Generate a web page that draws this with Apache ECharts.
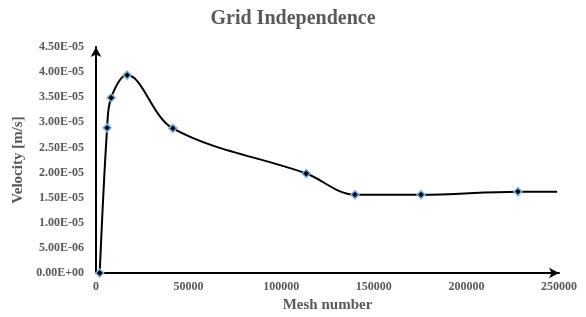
<!DOCTYPE html>
<html>
<head>
<meta charset="utf-8">
<script src="https://cdn.jsdelivr.net/npm/echarts@6/dist/echarts.min.js"></script>
<style>
  html, body { margin: 0; padding: 0; background: #fff; }
  #chart { width: 586px; height: 317px; }
</style>
</head>
<body>
<div id="chart"></div>
<script>
// mesh counts and velocity
var meshNumber = [2000, 6000, 8200, 16800, 41500, 113500, 139800, 175500, 227800, 249000];
var velocity = [0.0, 2.89e-5, 3.49e-5, 3.94e-5, 2.88e-5, 1.98e-5, 1.56e-5, 1.56e-5, 1.62e-5, 1.62e-5];
// last point only carries the line to the axis end, no marker
var showMarker = [true, true, true, true, true, true, true, true, true, false];

var serif = '"Liberation Serif", "DejaVu Serif", serif';
var grey = '#595959';

// Excel-like scientific labels: 4.50E-05
function sci(v) {
    var s = Number(v).toExponential(2).toUpperCase();
    var parts = s.split('E');
    var exp = parseInt(parts[1], 10);
    var sign = exp < 0 ? '-' : '+';
    var e = Math.abs(exp);
    return parts[0] + 'E' + sign + (e < 10 ? '0' + e : e);
}

var chart = echarts.init(document.getElementById('chart'));
var option = {
    animation: false,
    title: {
        text: 'Grid Independence',
        left: 'center',
        top: 4,
        textStyle: { fontFamily: serif, fontSize: 20, fontWeight: 'bold', color: grey }
    },
    grid: { left: 96, right: 27, top: 47, bottom: 44, outerBoundsMode: 'none', containLabel: false },
    xAxis: {
        type: 'value',
        min: 0,
        max: 250000,
        interval: 50000,
        name: 'Mesh number',
        nameLocation: 'middle',
        nameGap: 25,
        nameTextStyle: { fontFamily: serif, fontSize: 15, fontWeight: 'bold', color: grey },
        axisLine: { lineStyle: { color: '#000', width: 2 }, symbol: ['none', 'arrow'], symbolSize: [8, 10] },
        axisTick: { show: false },
        splitLine: { show: false },
        axisLabel: {
            fontFamily: serif, fontSize: 12, fontWeight: 'bold', color: grey, margin: 8,
            formatter: function (v) { return String(v); }
        }
    },
    yAxis: {
        type: 'value',
        min: 0,
        max: 4.5e-5,
        interval: 5e-6,
        name: 'Velocity [m/s]',
        nameLocation: 'middle',
        nameGap: 67,
        nameTextStyle: { fontFamily: serif, fontSize: 15, fontWeight: 'bold', color: grey },
        axisLine: { lineStyle: { color: '#000', width: 2 }, symbol: ['none', 'arrow'], symbolSize: [8, 10] },
        axisTick: { show: false },
        splitLine: { show: false },
        axisLabel: {
            fontFamily: serif, fontSize: 12, fontWeight: 'bold', color: grey, margin: 12,
            formatter: sci
        }
    },
    series: [{
        type: 'line',
        smooth: 0.35,
        data: meshNumber.map(function (m, i) {
            return {
                value: [m, velocity[i]],
                symbol: showMarker[i] ? 'diamond' : 'none'
            };
        }),
        symbolSize: 8,
        lineStyle: { color: '#000', width: 2 },
        itemStyle: { color: '#000', borderColor: '#7fb2e0', borderWidth: 1.5 }
    }]
};
chart.setOption(option);
</script>
</body>
</html>
